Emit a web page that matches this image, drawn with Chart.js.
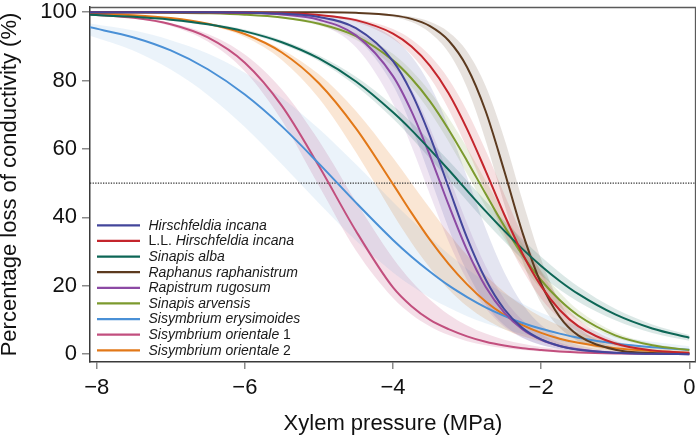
<!DOCTYPE html>
<html><head><meta charset="utf-8">
<script src="https://cdn.jsdelivr.net/npm/chart.js@4.4.0/dist/chart.umd.min.js"></script>
<style>html,body{margin:0;padding:0;background:#fff;}canvas{display:block;}</style>
</head><body>
<canvas id="c" width="696" height="436"></canvas>
<script>
// ---- data ----
const pressure = [-8.1, -7.5, -7, -6.5, -6, -5.5, -5, -4.5, -4, -3.75, -3.5, -3.25, -3, -2.75, -2.5, -2.25, -2, -1.75, -1.5, -1, -0.5, 0];
const xTicks = [-8, -6, -4, -2, 0];
const yTicks = [0, 20, 40, 60, 80, 100];
const refLevel = 50;
const legendLabels = ['*Hirschfeldia incana*', 'L.L. *Hirschfeldia incana*', '*Sinapis alba*', '*Raphanus raphanistrum*', '*Rapistrum rugosum*', '*Sinapis arvensis*', '*Sisymbrium erysimoides*', '*Sisymbrium orientale* 1', '*Sisymbrium orientale* 2'];

const hiMean  = [100.0, 100.0, 99.99, 99.96, 99.88, 99.58, 98.58, 95.3, 85.7, 76.4, 63.7, 48.8, 34.0, 21.9, 13.2, 7.6, 4.3, 2.4, 1.3, 0.4, 0.1, 0.0];
const hiUpper = [100, 100, 99.99, 99.98, 99.94, 99.8, 99.3, 97.7, 92.6, 87.1, 78.6, 66.5, 51.8, 36.8, 24.0, 14.6, 8.5, 4.8, 2.7, 0.8, 0.2, 0.1];
const hiLower = [100, 99.99, 99.98, 99.94, 99.8, 99.3, 97.7, 92.6, 78.6, 66.5, 51.8, 36.8, 24.0, 14.6, 8.5, 4.8, 2.7, 1.5, 0.8, 0.2, 0.1, 0.0];

const llMean  = [100, 99.99, 99.99, 99.96, 99.89, 99.69, 99.15, 97.66, 93.74, 89.94, 84.3, 76.3, 65.8, 53.6, 40.9, 29.3, 19.9, 12.9, 8.2, 3.1, 1.1, 0.4];
const llUpper = [100, 100, 99.99, 99.97, 99.91, 99.76, 99.33, 98.16, 95.04, 91.98, 87.29, 80.45, 71.1, 59.6, 46.9, 34.6, 24.1, 16.0, 10.2, 3.9, 1.4, 0.5];
const llLower = [100, 99.99, 99.98, 99.95, 99.86, 99.61, 98.91, 97.02, 92.13, 87.5, 80.8, 71.6, 60.1, 47.4, 35.1, 24.5, 16.2, 10.4, 6.5, 2.4, 0.9, 0.3];

const saMean  = [99.23, 98.63, 97.8, 96.47, 94.38, 91.2, 86.45, 79.7, 70.7, 65.5, 59.8, 53.9, 47.8, 41.8, 36.1, 30.7, 25.8, 21.4, 17.6, 11.6, 7.5, 4.8];
const saUpper = [99.35, 98.85, 98.1, 96.9, 94.9, 91.8, 87.3, 81.1, 72.7, 67.7, 62.3, 56.6, 50.7, 44.8, 39.0, 33.5, 28.5, 23.9, 19.8, 13.3, 8.7, 5.6];
const saLower = [99.1, 98.4, 97.5, 96.1, 94.0, 90.6, 85.7, 78.4, 68.8, 63.2, 57.2, 51.0, 44.8, 38.7, 33.0, 27.7, 23.0, 18.8, 15.3, 9.9, 6.2, 3.9];

const rrMean  = [100, 100, 100, 100, 100, 99.99, 99.95, 99.79, 99.05, 98.02, 95.9, 91.7, 83.9, 71.1, 53.7, 35.4, 20.6, 10.9, 5.5, 1.3, 0.3, 0.1];
const rrUpper = [100, 100, 100, 100, 100, 99.99, 99.97, 99.86, 99.36, 98.65, 97.18, 94.2, 88.5, 78.4, 63.2, 44.8, 27.7, 15.3, 7.9, 1.9, 0.4, 0.1];
const rrLower = [100, 100, 100, 100, 100, 99.98, 99.93, 99.69, 98.61, 97.1, 94.0, 88.2, 77.9, 62.5, 44.0, 27.1, 14.9, 7.7, 3.8, 0.9, 0.2, 0.0];

const ruMean  = [100, 99.99, 99.98, 99.93, 99.77, 99.28, 97.75, 93.2, 81.3, 71.0, 58.0, 43.7, 30.4, 19.7, 12.2, 7.2, 4.2, 2.4, 1.4, 0.4, 0.1, 0.0];
const ruUpper = [100, 99.99, 99.98, 99.95, 99.84, 99.49, 98.4, 95.1, 86.0, 77.6, 66.1, 52.3, 38.2, 25.8, 16.3, 9.9, 5.8, 3.4, 1.9, 0.6, 0.2, 0.1];
const ruLower = [100, 99.99, 99.96, 99.88, 99.64, 98.86, 96.5, 89.7, 73.3, 60.8, 46.6, 32.9, 21.6, 13.4, 8.0, 4.7, 2.7, 1.5, 0.9, 0.3, 0.1, 0.0];

const arMean  = [99.97, 99.93, 99.84, 99.66, 99.27, 98.43, 96.6, 93.0, 85.9, 80.6, 73.9, 65.7, 56.5, 46.9, 37.5, 28.9, 21.6, 15.8, 11.3, 5.5, 2.6, 1.2];
const arUpper = [99.98, 99.94, 99.87, 99.71, 99.38, 98.65, 97.1, 93.9, 87.8, 82.9, 76.7, 69.1, 60.3, 50.8, 41.2, 32.2, 24.4, 18.0, 12.9, 6.4, 3.1, 1.4];
const arLower = [99.97, 99.92, 99.82, 99.6, 99.15, 98.17, 96.1, 91.9, 84.0, 78.1, 70.8, 62.2, 52.7, 43.1, 33.9, 25.8, 19.1, 13.8, 9.8, 4.8, 2.3, 1.1];

const seMean  = [95.6, 92.6, 88.8, 83.3, 75.9, 66.6, 55.7, 44.3, 33.4, 28.5, 24.1, 20.1, 16.7, 13.7, 11.2, 9.1, 7.4, 6.0, 4.8, 3.1, 2.0, 1.25];
const seUpper = [96.7, 94.6, 91.8, 87.9, 82.3, 75.0, 65.9, 55.5, 44.5, 39.2, 34.1, 29.3, 25.0, 21.1, 17.7, 14.7, 12.1, 10.0, 8.2, 5.4, 3.6, 2.3];
const seLower = [93.2, 88.7, 83.2, 75.8, 66.4, 55.5, 44.1, 33.2, 23.9, 20.0, 16.5, 13.6, 11.1, 9.0, 7.3, 5.9, 4.7, 3.8, 3.0, 1.9, 1.2, 0.8];

const o1Mean  = [99.34, 98.33, 96.45, 92.6, 85.2, 72.6, 55.0, 36.0, 19.5, 14.0, 10.0, 7.3, 5.2, 3.6, 2.5, 1.7, 1.2, 0.8, 0.5, 0.2, 0.1, 0.1];
const o1Upper = [99.33, 98.42, 96.8, 93.6, 87.6, 77.4, 62.4, 44.6, 28.0, 21.3, 15.9, 11.6, 8.4, 6.0, 4.2, 3.0, 2.1, 1.5, 1.0, 0.5, 0.2, 0.1];
const o1Lower = [99.28, 98.14, 95.96, 91.4, 82.7, 68.3, 49.2, 30.3, 16.4, 11.6, 8.1, 5.6, 3.8, 2.6, 1.7, 1.2, 0.8, 0.5, 0.4, 0.2, 0.1, 0.0];

const o2Mean  = [99.6, 99.11, 98.26, 96.6, 93.6, 88.2, 79.2, 66.0, 49.7, 41.3, 33.4, 26.4, 20.4, 15.4, 11.5, 8.5, 6.2, 4.5, 3.3, 1.7, 0.9, 0.4];
const o2Upper = [99.46, 98.9, 98.0, 96.4, 93.7, 89.1, 81.8, 71.1, 57.4, 50.0, 42.6, 35.4, 28.9, 23.1, 18.2, 14.2, 10.9, 8.3, 6.3, 3.6, 2.0, 1.1];
const o2Lower = [99.63, 99.11, 98.18, 96.3, 92.7, 86.0, 74.8, 59.0, 41.0, 32.6, 25.2, 19.0, 14.0, 10.2, 7.3, 5.2, 3.7, 2.6, 1.8, 0.9, 0.4, 0.2];

// ---- styling ----
const lineColors = ['#43469b', '#c4252c', '#0d6656', '#5c3a1f', '#8c4aa4', '#7c9a2e', '#4a90d6', '#c24f7e', '#e27818'];
const bandAlpha  = [0.14, 0.14, 0.15, 0.15, 0.14, 0.15, 0.11, 0.18, 0.19];
const FONT = "'Liberation Sans', Arial, Helvetica, sans-serif";
const xMin = -8.09, xMax = 0.09, yMin = -2.3, yMax = 101.5;

const series = [
  [hiMean, hiUpper, hiLower], [llMean, llUpper, llLower], [saMean, saUpper, saLower],
  [rrMean, rrUpper, rrLower], [ruMean, ruUpper, ruLower], [arMean, arUpper, arLower],
  [seMean, seUpper, seLower], [o1Mean, o1Upper, o1Lower], [o2Mean, o2Upper, o2Lower]
];

function rgba(hex, a) {
  const n = parseInt(hex.slice(1), 16);
  return `rgba(${(n >> 16) & 255},${(n >> 8) & 255},${n & 255},${a})`;
}
function toPts(arr) { return pressure.map((x, i) => ({ x: x, y: arr[i] })); }

const datasets = [];
series.forEach((s, i) => {
  datasets.push({ data: toPts(s[1]), borderWidth: 1, borderColor: 'rgba(0,0,0,0)', pointRadius: 0,
    fill: '+1', backgroundColor: rgba(lineColors[i], bandAlpha[i]), order: 20, cubicInterpolationMode: 'monotone' });
  datasets.push({ data: toPts(s[2]), borderWidth: 1, borderColor: 'rgba(0,0,0,0)', pointRadius: 0,
    fill: false, order: 20, cubicInterpolationMode: 'monotone' });
});
datasets.push({ data: [{ x: xMin, y: refLevel }, { x: xMax, y: refLevel }], borderColor: '#333', borderWidth: 1.3,
  borderDash: [1.3, 1.3], pointRadius: 0, fill: false, order: 10 });
series.forEach((s, i) => {
  datasets.push({ data: toPts(s[0]), borderColor: lineColors[i], borderWidth: 2, pointRadius: 0,
    fill: false, order: 1, cubicInterpolationMode: 'monotone' });
});

const framePlugin = {
  id: 'frame',
  afterDatasetsDraw(chart) {
    const { ctx, chartArea: a } = chart;
    ctx.save();
    ctx.strokeStyle = '#5a5a5a';
    ctx.lineWidth = 1.3;
    ctx.beginPath();
    ctx.moveTo(a.left, a.top + 0.5); ctx.lineTo(a.right - 0.5, a.top + 0.5); ctx.lineTo(a.right - 0.5, a.bottom);
    ctx.stroke();
    // legend
    const lx0 = a.left + 7, lx1 = a.left + 50, tx = a.left + 58.5;
    let y = a.top + 218.3;
    const step = 15.63;
    legendLabels.forEach((lab, i) => {
      ctx.strokeStyle = lineColors[i];
      ctx.lineWidth = 2.2;
      ctx.beginPath(); ctx.moveTo(lx0, y); ctx.lineTo(lx1, y); ctx.stroke();
      ctx.fillStyle = '#1a1a1a';
      ctx.textBaseline = 'middle';
      ctx.textAlign = 'left';
      let x = tx;
      lab.split('*').forEach((part, k) => {
        if (!part) return;
        ctx.font = (k % 2 === 1 ? 'italic ' : '') + '14px ' + FONT;
        ctx.fillText(part, x, y + 0.5);
        x += ctx.measureText(part).width;
      });
      y += step;
    });
    ctx.restore();
  }
};

const fmt = v => (v < 0 ? '\u2212' + Math.abs(v) : String(v));
const noPad = s => { s.paddingTop = 0; s.paddingBottom = 0; s.paddingLeft = 0; s.paddingRight = 0; };

new Chart(document.getElementById('c'), {
  type: 'line',
  data: { datasets: datasets },
  plugins: [framePlugin],
  options: {
    responsive: false, animation: false, devicePixelRatio: 1,
    layout: { padding: { left: 0, right: 0, top: 7, bottom: 0 } },
    plugins: { legend: { display: false }, tooltip: { enabled: false } },
    scales: {
      x: {
        type: 'linear', min: xMin, max: xMax,
        afterBuildTicks: s => { s.ticks = xTicks.map(v => ({ value: v })); },
        afterFit: s => { s.height = 74; noPad(s); },
        grid: { display: true, drawOnChartArea: false, drawTicks: true, tickLength: 7, color: '#8a8a8a', lineWidth: 1.5 },
        border: { display: true, color: '#3a3a3a', width: 1.5 },
        ticks: { font: { family: FONT, size: 22 }, color: '#111', padding: 6, callback: fmt, maxRotation: 0, autoSkip: false },
        title: { display: true, text: 'Xylem pressure (MPa)', font: { family: FONT, size: 22, lineHeight: 1 }, color: '#111', padding: { top: 0, bottom: 1 } }
      },
      y: {
        type: 'linear', min: yMin, max: yMax,
        afterBuildTicks: s => { s.ticks = yTicks.map(v => ({ value: v })); },
        afterFit: s => { s.width = 90; noPad(s); },
        grid: { display: true, drawOnChartArea: false, drawTicks: true, tickLength: 8, color: '#8a8a8a', lineWidth: 1.5 },
        border: { display: true, color: '#3a3a3a', width: 1.5 },
        ticks: { font: { family: FONT, size: 22 }, color: '#111', padding: 5, callback: fmt, autoSkip: false },
        title: { display: true, text: 'Percentage loss of conductivity (%)', font: { family: FONT, size: 22, lineHeight: 0.9 }, color: '#111', padding: { top: 0, bottom: 0 } }
      }
    }
  }
});
</script>
</body></html>
